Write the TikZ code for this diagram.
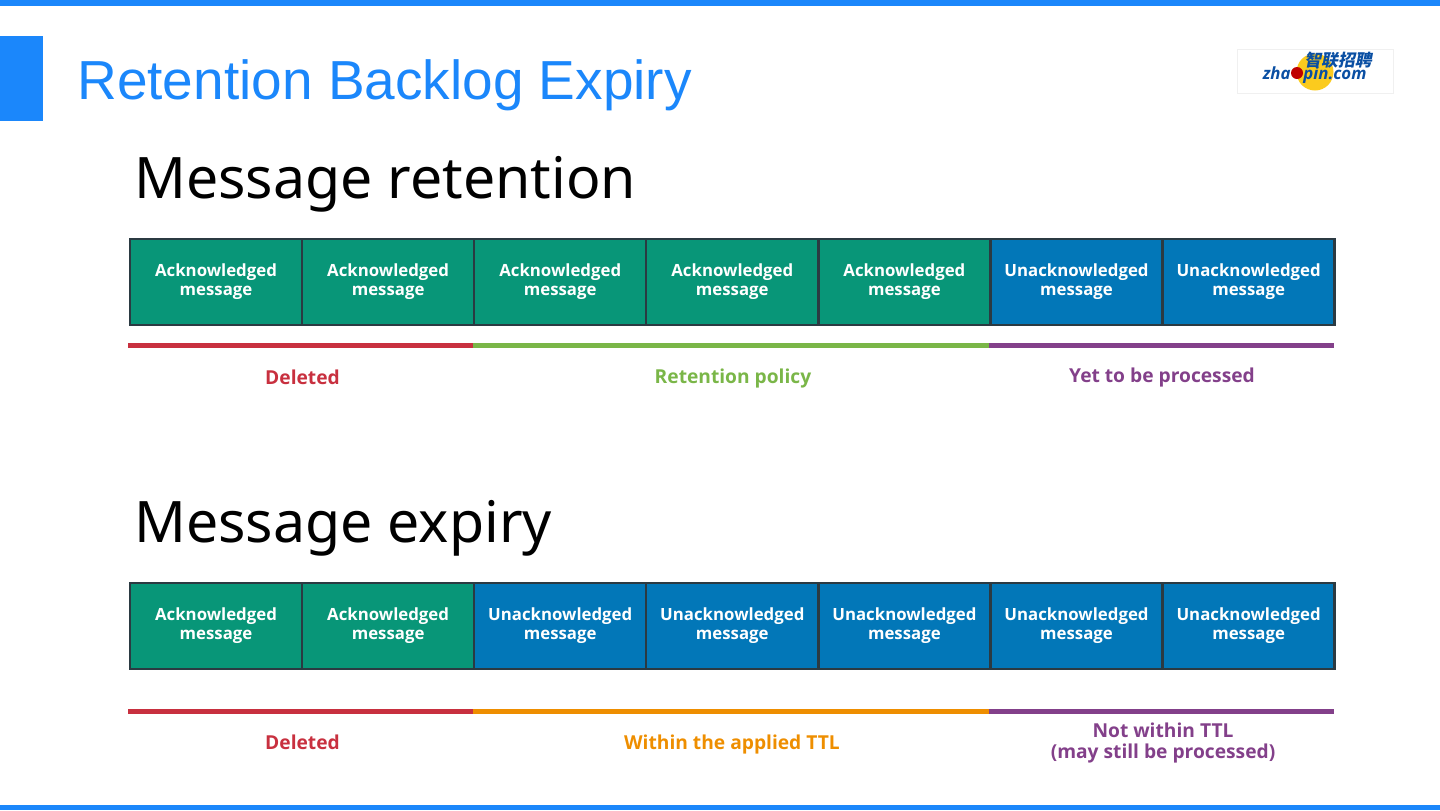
\documentclass[tikz,border=0pt]{standalone}
\usepackage{fontspec}
\setmainfont{Open Sans}
\newfontfamily\titlefont{Liberation Sans}
\newfontfamily\headfont{Noto Sans}
\newfontfamily\cjkfont[FakeSlant=0.2]{Noto Sans CJK SC}
\usetikzlibrary{positioning}
\definecolor{headblue}{HTML}{1B87FB}
\definecolor{ackgreen}{HTML}{089678}
\definecolor{unackblue}{HTML}{0277B8}
\definecolor{celledge}{HTML}{2B3A42}
\definecolor{delred}{HTML}{C8303F}
\definecolor{keepgreen}{HTML}{7AB648}
\definecolor{waitpurple}{HTML}{83408A}
\definecolor{ttlorange}{HTML}{EE8E00}
\definecolor{logoblue}{HTML}{0A4FA3}
\definecolor{logoyellow}{HTML}{FBCB1E}
\def\cellsep{172.1}

\begin{document}
\begin{tikzpicture}[x=0.5pt,y=-0.5pt]
    \tikzstyle{band}=[fill=headblue, draw=none, rectangle, inner sep=0pt, outer sep=0pt]
    \tikzstyle{heading}=[anchor=base west, inner sep=0pt, font=\headfont\fontsize{28.6}{34}\selectfont]
    \tikzstyle{cell}=[rectangle, draw=celledge, line width=1.2pt, outer sep=0pt, minimum width=\cellsep*0.5pt, minimum height=43pt, inner sep=0pt, text=white, align=center, font=\fontsize{8.4}{9.5}\selectfont\bfseries]
    \tikzstyle{ack}=[cell, fill=ackgreen];
    \tikzstyle{unack}=[cell, fill=unackblue];
    \tikzstyle{bar}=[line width=2.5pt];
    \tikzstyle{lab}=[inner sep=0pt, align=center, font=\fontsize{9.6}{10.5}\selectfont\bfseries]
    \tikzstyle{logotext}=[inner sep=0pt, text=logoblue, font=\fontsize{8.4}{8}\selectfont\bfseries\itshape]

    \useasboundingbox (0,0) rectangle (1440,810);

    % Draw the slide frame
    \node[band, minimum width=720pt, minimum height=3pt, anchor=north west] (TopBand) at (0,0) {};
    \node[band, minimum width=720pt, minimum height=2.5pt, anchor=south west] (BottomBand) at (0,810) {};
    \node[band, minimum width=21.5pt, minimum height=42.5pt, anchor=north west] (TitleMark) at (0,36) {};
    \node[anchor=base west, inner sep=0pt, text=headblue, font=\titlefont\fontsize{27.5}{32}\selectfont] (Title) at (77,99.5) {Retention Backlog Expiry};

    % Draw the logo
    \node[rectangle, draw=black!6, line width=0.4pt, minimum width=78pt, minimum height=22pt, inner sep=0pt] (LogoBox) at (1315,71.5) {};
    \node[circle, fill=logoyellow, minimum size=18.5pt, inner sep=0pt] (LogoSun) at (1315,72) {};
    \node[inner sep=0pt, text=logoblue, font=\cjkfont\fontsize{8.4}{9}\selectfont\bfseries] (LogoCn) at (1338,60) {智联招聘};
    \node[logotext, anchor=base east] (LogoLeft) at (1291,79.5) {zha};
    \node[logotext, anchor=base west] (LogoRight) at (1303,79.5) {pin.com};
    \node[circle, fill=red!75!black, minimum size=6pt, inner sep=0pt] (LogoBall) at (1297,73) {};

    % Draw the retention row
    \node[heading] (HeadA) at (134,198) {Message retention};
    \node[ack] (A-1) at (216,282) {Acknowledged\\message};
    \node[ack, right=0pt of A-1] (A-2) {Acknowledged\\message};
    \node[ack, right=0pt of A-2] (A-3) {Acknowledged\\message};
    \node[ack, right=0pt of A-3] (A-4) {Acknowledged\\message};
    \node[ack, right=0pt of A-4] (A-5) {Acknowledged\\message};
    \node[unack, right=0pt of A-5] (A-6) {Unacknowledged\\message};
    \node[unack, right=0pt of A-6] (A-7) {Unacknowledged\\message};

    \coordinate (P-1) at (128,345);
    \coordinate (P-2) at (473,345);
    \coordinate (P-3) at (989,345);
    \coordinate (P-4) at (1334,345);
    \draw[bar, delred] (P-1) -- (P-2);
    \draw[bar, keepgreen] (P-2) -- (P-3);
    \draw[bar, waitpurple] (P-3) -- (P-4);
    \node[lab, text=delred] (L-1) at (302.5,377) {Deleted};
    \node[lab, text=keepgreen] (L-2) at (733,379) {Retention policy};
    \node[lab, text=waitpurple] (L-3) at (1162,378) {Yet to be processed};

    % Draw the expiry row
    \node[heading] (HeadB) at (134,542) {Message expiry};
    \node[ack] (B-1) at (216,626) {Acknowledged\\message};
    \node[ack, right=0pt of B-1] (B-2) {Acknowledged\\message};
    \node[unack, right=0pt of B-2] (B-3) {Unacknowledged\\message};
    \node[unack, right=0pt of B-3] (B-4) {Unacknowledged\\message};
    \node[unack, right=0pt of B-4] (B-5) {Unacknowledged\\message};
    \node[unack, right=0pt of B-5] (B-6) {Unacknowledged\\message};
    \node[unack, right=0pt of B-6] (B-7) {Unacknowledged\\message};

    \coordinate (Q-1) at (128,711.5);
    \coordinate (Q-2) at (473,711.5);
    \coordinate (Q-3) at (989,711.5);
    \coordinate (Q-4) at (1334,711.5);
    \draw[bar, delred] (Q-1) -- (Q-2);
    \draw[bar, ttlorange] (Q-2) -- (Q-3);
    \draw[bar, waitpurple] (Q-3) -- (Q-4);
    \node[lab, text=delred] (M-1) at (302.5,742) {Deleted};
    \node[lab, text=ttlorange] (M-2) at (732,744) {Within the applied TTL};
    \node[lab, text=waitpurple] (M-3) at (1163,743) {Not within TTL\\(may still be processed)};
\end{tikzpicture}
\end{document}
